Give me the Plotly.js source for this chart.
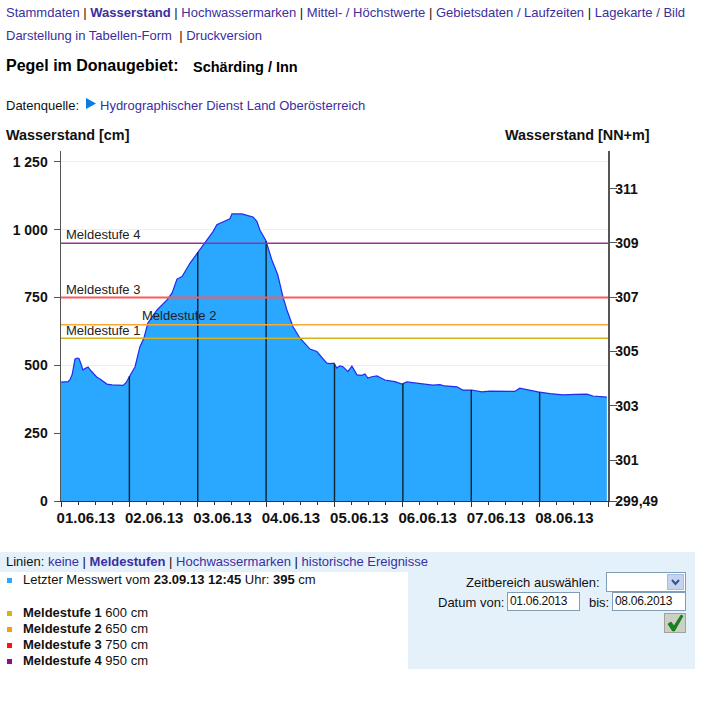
<!DOCTYPE html>
<html><head><meta charset="utf-8">
<script src="https://cdn.plot.ly/plotly-3.0.1.min.js"></script>
<style>
html,body{margin:0;padding:0;background:#fff;width:716px;height:711px;overflow:hidden;font-family:"Liberation Sans",Arial,sans-serif;font-size:13px;color:#111}
#chart{position:absolute;left:0;top:0;width:716px;height:711px}
.t{position:absolute;white-space:nowrap;line-height:14px}
a{color:#3b2fa0;text-decoration:none}
.panel{position:absolute;background:#e4f1fb}
.sq{position:absolute;width:5px;height:5px}
.box{position:absolute;background:#fff;border:1px solid #7f9db9;box-sizing:border-box;font-size:12px;line-height:17px;padding-left:2px;white-space:nowrap;letter-spacing:-0.3px}
</style></head><body>
<div class="panel" style="left:0;top:552px;width:695px;height:20px"></div>
<div class="panel" style="left:408px;top:552px;width:287px;height:117px"></div>
<div id="chart"></div>

<div class="t" style="left:6px;top:6px"><a>Stammdaten</a> | <a style="font-weight:bold">Wasserstand</a> | <a>Hochwassermarken</a> | <a>Mittel- / Höchstwerte</a> | <a>Gebietsdaten / Laufzeiten</a> | <a>Lagekarte / Bild</a></div>
<div class="t" style="left:6px;top:29px"><a>Darstellung in Tabellen-Form</a> &nbsp;| <a>Druckversion</a></div>
<div class="t" style="left:6px;top:59px;font-size:16px;font-weight:bold;color:#000">Pegel im Donaugebiet:</div>
<div class="t" style="left:193px;top:60px;font-weight:bold;color:#000;font-size:14.5px">Schärding / Inn</div>
<div class="t" style="left:6px;top:99px">Datenquelle:</div>
<svg style="position:absolute;left:86px;top:98px" width="11" height="12"><polygon points="0,0 10,5.5 0,11" fill="#0a7be0"/></svg>
<div class="t" style="left:100px;top:99px"><a>Hydrographischer Dienst Land Oberösterreich</a></div>

<div class="t" style="left:6px;top:555px">Linien: <a>keine</a> | <a style="font-weight:bold">Meldestufen</a> | <a>Hochwassermarken</a> | <a>historische Ereignisse</a></div>
<div class="sq" style="left:7px;top:578px;background:#2aa7ff"></div>
<div class="t" style="left:23px;top:573px">Letzter Messwert vom <b>23.09.13 12:45</b> Uhr: <b>395</b> cm</div>
<div class="sq" style="left:7px;top:611px;background:#d4b21a"></div>
<div class="t" style="left:23px;top:606px"><b>Meldestufe 1</b> 600 cm</div>
<div class="sq" style="left:7px;top:627px;background:#ff9a10"></div>
<div class="t" style="left:23px;top:622px"><b>Meldestufe 2</b> 650 cm</div>
<div class="sq" style="left:7px;top:643px;background:#ff0f0f"></div>
<div class="t" style="left:23px;top:638px"><b>Meldestufe 3</b> 750 cm</div>
<div class="sq" style="left:7px;top:659px;background:#8a0f8a"></div>
<div class="t" style="left:23px;top:654px"><b>Meldestufe 4</b> 950 cm</div>

<div class="t" style="left:466px;top:576px">Zeitbereich auswählen:</div>
<div class="box" style="left:606px;top:572px;width:80px;height:20px"></div>
<div style="position:absolute;left:667px;top:574px;width:17px;height:16px;background:#c3d3f0;border:1px solid #a8bce0;box-sizing:border-box"></div>
<svg style="position:absolute;left:667px;top:574px" width="17" height="16"><path d="M5 6 L8.5 10 L12 6" fill="none" stroke="#3a4f90" stroke-width="2"/></svg>
<div class="t" style="left:438px;top:596px">Datum von:</div>
<div class="box" style="left:507px;top:592px;width:73px;height:19px">01.06.2013</div>
<div class="t" style="left:589px;top:596px">bis:</div>
<div class="box" style="left:612px;top:592px;width:74px;height:19px">08.06.2013</div>
<div style="position:absolute;left:664px;top:613px;width:22px;height:20px;background:#ccd0c4;border:1px solid #a0a498;box-sizing:border-box"></div>
<svg style="position:absolute;left:665px;top:613px" width="20" height="20"><path d="M3 11 L6 9 L9 13 L16 2 L18 3 L9.5 18 L7.5 18 Z" fill="#11881a" stroke="#0a5d10" stroke-width="0.6"/></svg>

<script>
// Hours since 01.06.13 00:00 and gauge reading in cm
var hours = [0,1.4,2.5,3.2,3.9,4.6,4.9,5.6,6.3,7.0,7.7,8.4,9.5,10.5,11.9,12.6,13.7,15.1,16.1,17.9,19.6,21.8,22.8,23.5,
  24.6,26.0,27.7,29.1,30.5,33.7,37.2,39.0,40.7,42.5,45.3,48.1,50.5,53.3,54.7,59.3,60.0,63.5,65.6,67.4,68.8,69.8,71.9,
  74.0,76.1,77.9,79.3,80.4,81.4,83.9,87.4,89.8,91.9,92.6,93.3,94.4,95.8,96.8,97.9,99.0,100.0,100.7,102.1,103.9,105.6,106.7,107.7,109.1,110.9,
  113.7,117.2,119.7,121.4,124.9,130.5,133.0,134.7,139.0,141.0,144.2,147.7,150.5,157.6,159.3,161.0,164.6,167.4,171.6,176.2,180.4,184.6,186.7,189.1,191.6];
var levels = [438,439,440,448,465,505,523,527,525,506,483,488,494,480,465,456,450,440,431,428,427,426,436,450,
  470,495,569,600,656,704,741,767,818,827,877,918,951,992,1018,1040,1058,1058,1052,1047,1030,999,960,
  889,833,753,704,675,643,600,560,551,523,515,508,506,508,490,498,495,482,477,497,465,463,468,453,458,461,
  446,440,431,439,435,427,429,424,421,409,409,402,405,404,404,416,407,402,396,391,393,394,387,385,383];
// Day boundaries: value of the curve where each black line stops
var dayHours = [24,48,72,96,120,144,168];
var dayLevels = [460,918,958,506,432,409,401];
var dayLabels = ['01.06.13','02.06.13','03.06.13','04.06.13','05.06.13','06.06.13','07.06.13','08.06.13'];
var dayStarts = [0,24,48,72,96,120,144,168];
var labelOffsetHours = 8.7;
// Warning levels
var stufeNames = ['Meldestufe 1','Meldestufe 2','Meldestufe 3','Meldestufe 4'];
var stufeValues = [600,650,750,950];
var stufeColors = ['#d4b21a','#ffa733','#ff5a5a','#95359b'];
var stufeWidths = [1.5,1.5,2,1.5];
var stufeLabelX = [66,142,66,66];
var stufeLabelY = [330,315,289,234];
// Axes
var yTicks = [0,250,500,750,1000,1250];
var yTickText = ['0','250','500','750','1 000','1 250'];
var nnTicks = [299.49,301,303,305,307,309,311];
var nnTickText = ['299,49','301','303','305','307','309','311'];
var nnZero = 299.49;

var L=61,R=608,T=151,B=501,topCm=1290,endH=192;
function px(x){return (x-L)/(R-L);}
function py(y){return (B-y)/(B-T);}

var traces=[{x:hours,y:levels,type:'scatter',mode:'lines',fill:'tozeroy',fillcolor:'#2aa7ff',
  line:{color:'#1f2cf0',width:1.2},hoverinfo:'skip',showlegend:false}];
var lx=[],ly=[];
dayHours.forEach(function(h,i){lx.push(h,h,null);ly.push(0,dayLevels[i],null);});
traces.push({x:lx,y:ly,type:'scatter',mode:'lines',line:{color:'#0b2230',width:1.4},hoverinfo:'skip',showlegend:false});
stufeValues.forEach(function(v,i){
  traces.push({x:[0,endH],y:[v,v],type:'scatter',mode:'lines',line:{color:stufeColors[i],width:stufeWidths[i]},hoverinfo:'skip',showlegend:false});
});
// right-hand axis shows the same levels in metres above sea level
traces.push({x:[0,endH],y:[nnZero,nnZero+topCm/100],xaxis:'x2',yaxis:'y2',type:'scatter',mode:'lines',
  line:{width:0,color:'rgba(0,0,0,0)'},hoverinfo:'skip',showlegend:false});

var tickFont={family:'Liberation Sans, Arial, sans-serif',size:14,color:'#111',weight:'bold'};
var xTickFont={family:'Liberation Sans, Arial, sans-serif',size:15,color:'#111',weight:'bold'};
var annotations=[
  {text:'<b>Wasserstand [cm]</b>',x:px(6),y:py(135),xref:'paper',yref:'paper',xanchor:'left',yanchor:'middle',showarrow:false,xshift:-2,font:{family:'Liberation Sans',size:14.4,color:'#111'}},
  {text:'<b>Wasserstand [NN+m]</b>',x:px(650),y:py(135),xref:'paper',yref:'paper',xanchor:'right',yanchor:'middle',showarrow:false,xshift:2,font:{family:'Liberation Sans',size:14.4,color:'#111'}}
];
stufeNames.forEach(function(n,i){
  annotations.push({text:n,x:px(stufeLabelX[i]),y:py(stufeLabelY[i]),xref:'paper',yref:'paper',xanchor:'left',yanchor:'middle',showarrow:false,xshift:-2,
    font:{family:'Liberation Sans',size:13,color:'#222'}});
});

var layout={width:716,height:711,paper_bgcolor:'rgba(0,0,0,0)',plot_bgcolor:'#fff',showlegend:false,
  margin:{l:L,r:716-R,t:T,b:711-B,pad:0},
  xaxis:{range:[0,endH],tickmode:'array',tickvals:dayStarts.map(function(d){return d+labelOffsetHours;}),ticktext:dayLabels,
    ticklen:0,tickfont:xTickFont,showgrid:false,zeroline:false,showline:false,ticklabelstandoff:6,fixedrange:true},
  xaxis2:{range:[0,endH],overlaying:'x',anchor:'y',side:'bottom',tickmode:'array',tickvals:dayStarts.concat([192]),ticktext:[],showticklabels:false,
    ticks:'outside',ticklen:5,tickwidth:1,tickcolor:'#333',showgrid:false,zeroline:false,showline:true,linecolor:'#333',linewidth:1,
    minor:{dtick:6,tick0:0,ticks:'outside',ticklen:3,tickcolor:'#333',showgrid:false}},
  yaxis:{range:[0,topCm],tickmode:'array',tickvals:yTicks,ticktext:yTickText,tickfont:tickFont,ticks:'outside',ticklen:6,tickcolor:'#555',
    showgrid:true,gridcolor:'#efefef',gridwidth:1,zeroline:false,showline:true,linecolor:'#555',linewidth:1.5,ticklabelstandoff:3,fixedrange:true},
  yaxis2:{range:[nnZero,nnZero+topCm/100],overlaying:'y',side:'right',anchor:'x',tickmode:'array',tickvals:nnTicks,ticktext:nnTickText,tickfont:tickFont,
    ticks:'outside',ticklen:7,tickcolor:'#555',showgrid:false,zeroline:false,showline:true,linecolor:'#555',linewidth:1.5,ticklabelstandoff:-4,fixedrange:true},
  annotations:annotations
};
Plotly.newPlot('chart',traces,layout,{staticPlot:true,displayModeBar:false});
</script>
</body></html>
